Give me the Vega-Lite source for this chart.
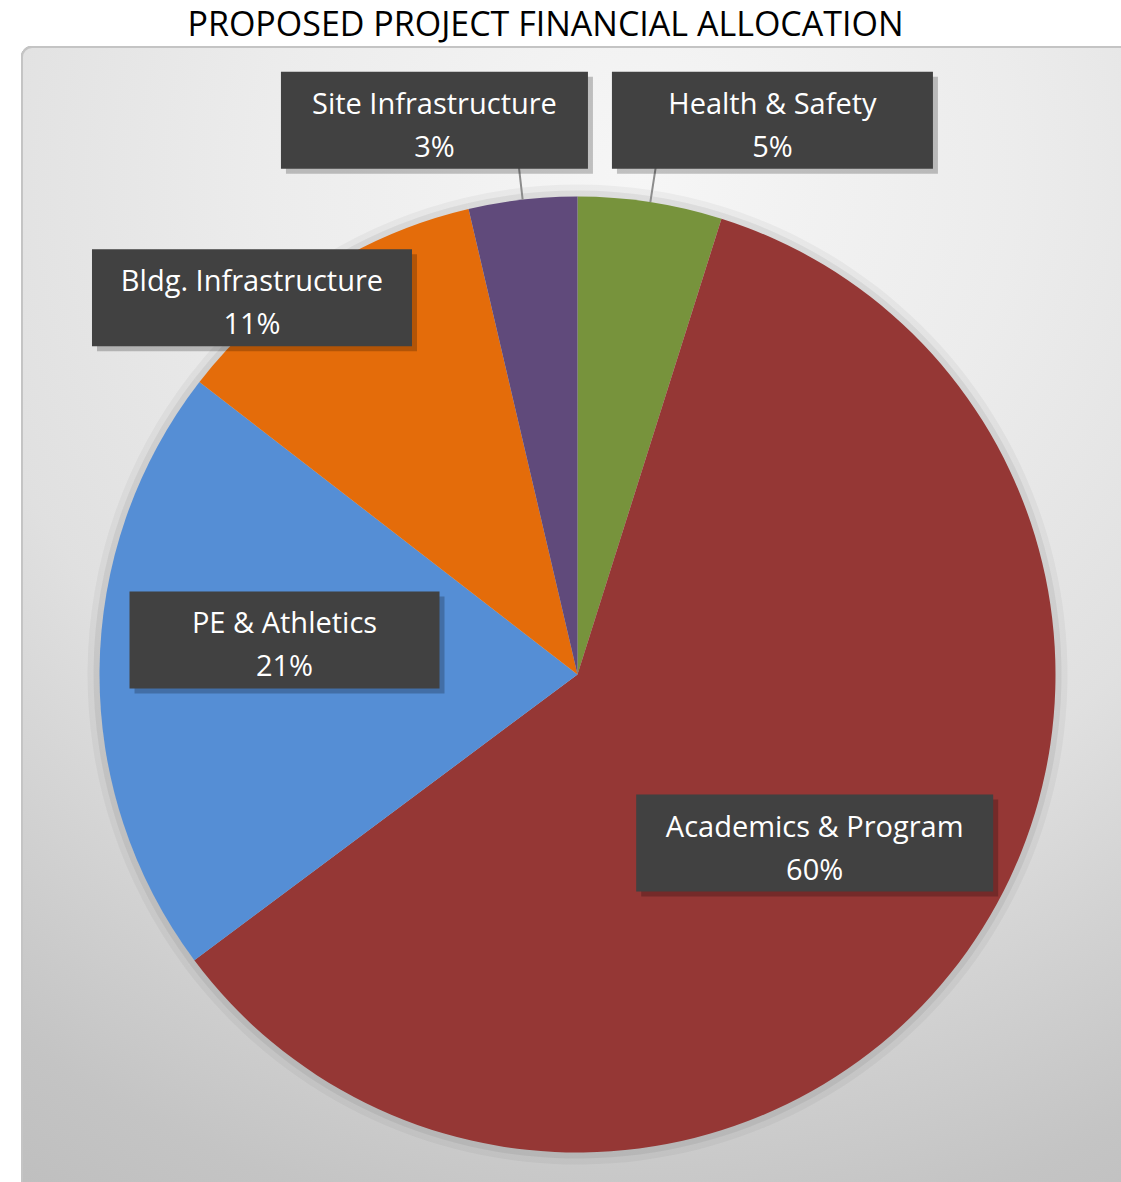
{
  "$schema": "https://vega.github.io/schema/vega-lite/v6.json",
  "width": 1111,
  "height": 1255,
  "autosize": "none",
  "padding": {"left": 22, "top": 47, "right": -12, "bottom": -120},
  "background": "#ffffff",
  "title": {
    "text": "PROPOSED PROJECT FINANCIAL ALLOCATION",
    "font": "Open Sans",
    "fontSize": 34,
    "fontWeight": "normal",
    "color": "#000000",
    "anchor": "middle",
    "frame": "group",
    "baseline": "alphabetic",
    "dx": -32,
    "dy": 36,
    "offset": 12
  },
  "params": [
    {"name": "labelRadius", "value": {"Health & Safety": 577, "Academics & Program": 291, "PE & Athletics": 293, "Bldg. Infrastructure": 493, "Site Infrastructure": 567}},
    {"name": "labelDx", "value": {"Health & Safety": 107, "Academics & Program": 0, "PE & Athletics": 0, "Bldg. Infrastructure": -59, "Site Infrastructure": -78}},
    {"name": "labelDy", "value": {"Health & Safety": 16, "Academics & Program": 0, "PE & Athletics": -32, "Bldg. Infrastructure": 38, "Site Infrastructure": 9}},
    {"name": "boxWidth", "value": {"Health & Safety": 321, "Academics & Program": 357, "PE & Athletics": 310, "Bldg. Infrastructure": 320, "Site Infrastructure": 307}}
  ],
  "data": {
    "values": [
      {"category": "Health & Safety", "value": 4.87, "label": "5%"},
      {"category": "Academics & Program", "value": 59.93, "label": "60%"},
      {"category": "PE & Athletics", "value": 20.68, "label": "21%"},
      {"category": "Bldg. Infrastructure", "value": 10.86, "label": "11%"},
      {"category": "Site Infrastructure", "value": 3.66, "label": "3%"}
    ]
  },
  "transform": [
    {"window": [{"op": "row_number", "as": "slice"}, {"op": "sum", "field": "value", "as": "cum"}]}
  ],
  "layer": [
    {
      "mark": {
        "type": "rect",
        "cornerRadius": 10,
        "stroke": "#c4c4c4",
        "strokeWidth": 2,
        "color": {
          "gradient": "radial",
          "x1": 0.55, "y1": 0.1, "r1": 0,
          "x2": 0.55, "y2": 0.1, "r2": 1,
          "stops": [
            {"offset": 0, "color": "#f6f6f6"},
            {"offset": 0.3, "color": "#ececec"},
            {"offset": 0.55, "color": "#e0e0e0"},
            {"offset": 0.7, "color": "#d2d2d2"},
            {"offset": 0.85, "color": "#c4c4c4"},
            {"offset": 1, "color": "#bcbcbc"}
          ]
        }
      }
    },
    {
      "mark": {"type": "arc", "radius": 490, "color": "#000000", "opacity": 0.04},
      "encoding": {
        "theta": {"field": "value", "type": "quantitative", "stack": true},
        "order": {"field": "slice", "type": "quantitative"}
      }
    },
    {
      "mark": {"type": "arc", "radius": 484, "color": "#000000", "opacity": 0.06},
      "encoding": {
        "theta": {"field": "value", "type": "quantitative", "stack": true},
        "order": {"field": "slice", "type": "quantitative"}
      }
    },
    {
      "mark": {"type": "arc", "radius": 478},
      "encoding": {
        "theta": {"field": "value", "type": "quantitative", "stack": true},
        "order": {"field": "slice", "type": "quantitative"},
        "color": {
          "field": "category",
          "type": "nominal",
          "scale": {
            "domain": ["Health & Safety", "Academics & Program", "PE & Athletics", "Bldg. Infrastructure", "Site Infrastructure"],
            "range": ["#77933C", "#953735", "#558ED5", "#E46C0A", "#604A7B"]
          },
          "legend": null
        }
      }
    },
    {
      "mark": {"type": "arc", "radius": 515, "radius2": 478, "padAngle": 0.5, "filled": false, "color": "#8c8c8c", "strokeWidth": 2},
      "encoding": {
        "theta": {"field": "value", "type": "quantitative", "stack": true},
        "order": {"field": "slice", "type": "quantitative"},
        "strokeOpacity": {
          "condition": {"test": "datum.category === 'Health & Safety' || datum.category === 'Site Infrastructure'", "value": 1},
          "value": 0
        }
      }
    },
    {
      "mark": {
        "type": "arc",
        "theta": 1.5708,
        "theta2": 1.5708,
        "radius2": 0,
        "filled": false,
        "color": "#000000",
        "opacity": 0.22,
        "strokeWidth": 97,
        "strokeJoin": "bevel",
        "radius": {"expr": "boxWidth[datum.category]"},
        "x": {"expr": "width / 2 + labelRadius[datum.category] * sin(scale('theta', datum.cum - datum.value / 2)) + labelDx[datum.category] - boxWidth[datum.category] / 2 + 5"},
        "y": {"expr": "height / 2 - labelRadius[datum.category] * cos(scale('theta', datum.cum - datum.value / 2)) + labelDy[datum.category] + 5"}
      }
    },
    {
      "mark": {
        "type": "arc",
        "theta": 1.5708,
        "theta2": 1.5708,
        "radius2": 0,
        "filled": false,
        "color": "#414141",
        "strokeWidth": 97,
        "strokeJoin": "bevel",
        "radius": {"expr": "boxWidth[datum.category]"},
        "x": {"expr": "width / 2 + labelRadius[datum.category] * sin(scale('theta', datum.cum - datum.value / 2)) + labelDx[datum.category] - boxWidth[datum.category] / 2"},
        "y": {"expr": "height / 2 - labelRadius[datum.category] * cos(scale('theta', datum.cum - datum.value / 2)) + labelDy[datum.category]"}
      }
    },
    {
      "mark": {
        "type": "text",
        "font": "Open Sans",
        "fontSize": 29,
        "color": "#ffffff",
        "align": "center",
        "baseline": "alphabetic",
        "radius": {"expr": "labelRadius[datum.category]"},
        "dx": {"expr": "labelDx[datum.category]"},
        "dy": {"expr": "labelDy[datum.category] - 6.5"}
      },
      "encoding": {
        "theta": {"field": "value", "type": "quantitative", "stack": true},
        "order": {"field": "slice", "type": "quantitative"},
        "text": {"field": "category", "type": "nominal"}
      }
    },
    {
      "mark": {
        "type": "text",
        "font": "Open Sans",
        "fontSize": 29,
        "color": "#ffffff",
        "align": "center",
        "baseline": "alphabetic",
        "radius": {"expr": "labelRadius[datum.category]"},
        "dx": {"expr": "labelDx[datum.category]"},
        "dy": {"expr": "labelDy[datum.category] + 36.5"}
      },
      "encoding": {
        "theta": {"field": "value", "type": "quantitative", "stack": true},
        "order": {"field": "slice", "type": "quantitative"},
        "text": {"field": "label", "type": "nominal"}
      }
    }
  ],
  "config": {
    "view": {"stroke": null}
  }
}
